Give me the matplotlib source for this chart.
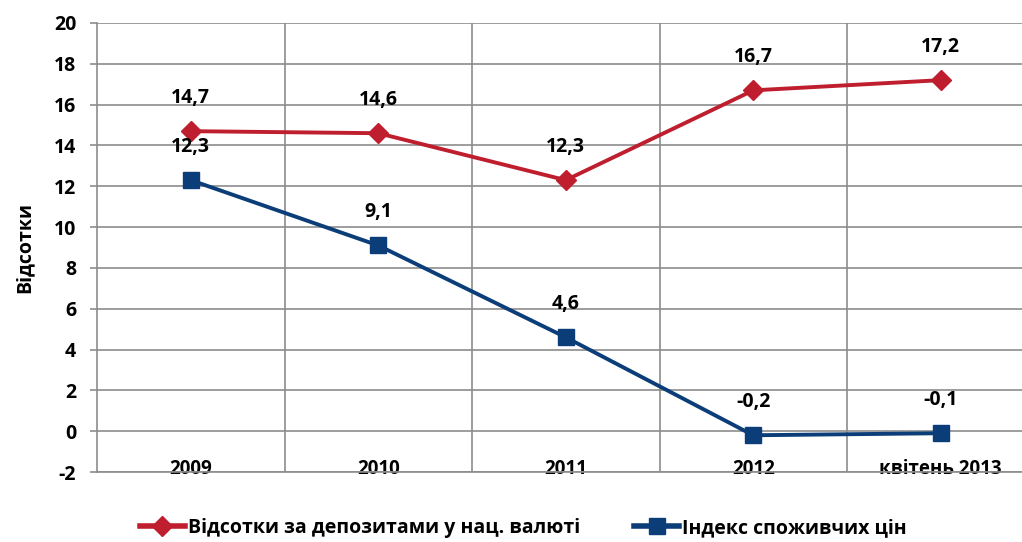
import numpy as np
import matplotlib.pyplot as plt

plt.rcParams['font.family'] = ['Open Sans', 'DejaVu Sans']
plt.rcParams['font.weight'] = 'bold'
plt.rcParams['axes.unicode_minus'] = False

categories = ['2009', '2010', '2011', '2012', 'квітень 2013']
deposits = [14.7, 14.6, 12.3, 16.7, 17.2]
cpi = [12.3, 9.1, 4.6, -0.2, -0.1]
deposits_name = 'Відсотки за депозитами у нац. валюті'
cpi_name = 'Індекс споживчих цін'

red = '#BE1E2D'
blue = '#0B3D78'
grid = '#8C8C8C'

fig = plt.figure(figsize=(10.22, 5.42), dpi=100)
ax = fig.add_axes([97 / 1022, 70 / 542, 937.5 / 1022, 449 / 542])

x = np.arange(len(categories))
ax.plot(x, deposits, color=red, lw=2.8, marker='D', ms=10, label=deposits_name, zorder=3)
ax.plot(x, cpi, color=blue, lw=2.8, marker='s', ms=12, label=cpi_name, zorder=3)

def fmt(v):
    return ('%.1f' % v).replace('.', ',')

for ys in [deposits, cpi]:
    for xi, yi in zip(x, ys):
        ax.annotate(fmt(yi), (xi, yi), xytext=(0, 24), textcoords='offset points',
                    ha='center', va='center', fontsize=14, fontweight='bold')

ax.set_xlim(-0.5, len(categories) - 0.5)
ax.set_ylim(-2, 20)
ax.set_yticks(np.arange(-2, 21, 2))
ax.set_xticks(x)
ax.set_xticklabels(categories)
ax.set_xticks(np.arange(0.5, len(categories), 1), minor=True)
ax.tick_params(axis='x', which='both', length=0, pad=-9, labelsize=13.5)
ax.tick_params(axis='y', length=5, color=grid, width=1.2, labelsize=14, pad=10)
for lab in ax.get_xticklabels() + ax.get_yticklabels():
    lab.set_fontweight('bold')
ax.grid(axis='y', color=grid, lw=1.2)
ax.grid(axis='x', which='minor', color=grid, lw=1.2)
ax.set_axisbelow(True)
for s in ['top', 'right']:
    ax.spines[s].set_visible(False)
for s in ['left', 'bottom']:
    ax.spines[s].set_color(grid)
    ax.spines[s].set_linewidth(1.2)
ax.set_ylabel('Відсотки', fontsize=14, fontweight='bold', labelpad=14)

leg = fig.legend(loc='lower center', bbox_to_anchor=(0.512, -0.025), ncol=2, frameon=False,
                 prop={'size': 14, 'weight': 'bold'}, handlelength=2.3, columnspacing=2.8,
                 handletextpad=0.15)
for h in leg.legend_handles:
    h.set_linewidth(4)

fig.savefig('out.png', dpi=100)
